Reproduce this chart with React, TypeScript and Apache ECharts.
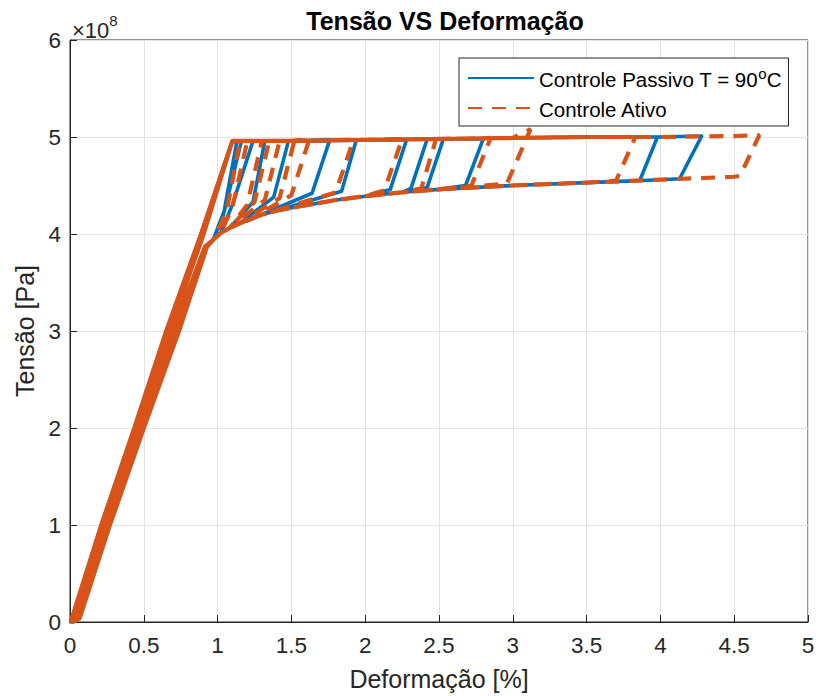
import React, { useEffect, useRef } from "react";
import * as echarts from "echarts";

// Stress values are in units of 1e8 Pa (axis exponent ×10^8), strain in %
const xTicks = [0, 0.5, 1, 1.5, 2, 2.5, 3, 3.5, 4, 4.5, 5];
const yTicks = [0, 1, 2, 3, 4, 5, 6];

// shared branches (elastic loading / unloading variants)
const loadAX = [0.005, 0.212, 0.436, 0.652, 0.888, 1.1];
const loadBX = [0.02, 0.232, 0.455, 0.675, 0.905, 1.1];
const loadY = [0, 1, 2, 3, 4, 4.96];
const unloadAX = [0.915, 0.698, 0.468, 0.24, 0.03];
const unloadBX = [0.92, 0.718, 0.484, 0.255, 0.045];
const unloadCX = [0.928, 0.738, 0.5, 0.27, 0.065];
const unloadY = [3.87, 3, 2, 1, 0.04];
const upperX = [1.1, 1.5, 2, 2.5, 3, 3.5, 4, 4.5];
const upperY = [4.96, 4.96, 4.97, 4.98, 4.99, 5.0, 5.0, 5.01];
const lowerX = [0.97, 1.02, 1.08, 1.15, 1.22, 1.3, 1.4, 1.5, 1.65, 1.8, 2.0, 2.25, 2.5, 3.0, 3.5, 4.0, 4.5];
const lowerY = [3.94, 4.01, 4.06, 4.11, 4.15, 4.2, 4.24, 4.27, 4.31, 4.35, 4.39, 4.43, 4.46, 4.5, 4.53, 4.56, 4.59];

// Controle Passivo T = 90°C: peak, bottom of unloading drop, x where return meets lower branch
const bluePeakX = [4.28, 3.98, 2.8, 2.53, 2.42, 2.28, 1.94, 1.76, 1.48, 1.32, 1.24, 1.16, 1.13];
const bluePeakY = [5.01, 5.0, 4.98, 4.98, 4.98, 4.97, 4.97, 4.97, 4.96, 4.96, 4.96, 4.95, 4.95];
const blueDropX = [4.13, 3.86, 2.68, 2.42, 2.31, 2.17, 1.84, 1.64, 1.38, 1.24, 1.1, 1.05, 1.04];
const blueDropY = [4.57, 4.55, 4.5, 4.48, 4.47, 4.46, 4.44, 4.42, 4.38, 4.33, 4.3, 4.26, 4.2];
const blueRejoinX = [4.13, 3.86, 2.68, 2.42, 2.31, 2.17, 1.5, 1.25, 1.2, 1.15, 1.08, 1.02, 1.0];

// Controle Ativo
const orangePeakX = [4.67, 3.83, 3.12, 2.85, 2.48, 2.25, 1.92, 1.62, 1.52, 1.42, 1.35, 1.3, 1.2, 1.15];
const orangePeakY = [5.02, 5.0, 5.08, 4.99, 4.98, 4.98, 4.97, 4.97, 4.96, 4.96, 4.96, 4.96, 4.95, 4.95];
const orangeDropX = [4.54, 3.7, 2.96, 2.72, 2.38, 2.13, 1.8, 1.5, 1.42, 1.32, 1.25, 1.2, 1.1, 1.06];
const orangeDropY = [4.6, 4.55, 4.52, 4.5, 4.47, 4.45, 4.43, 4.4, 4.37, 4.35, 4.33, 4.3, 4.27, 4.22];
const orangeRejoinX = [4.54, 3.7, 2.96, 2.72, 2.38, 2.13, 1.4, 1.25, 1.2, 1.15, 1.12, 1.1, 1.05, 1.02];

const loadVariants = [loadAX, loadBX];
const unloadVariants = [unloadAX, unloadBX, unloadCX];

function buildPath(px: number[], py: number[], dx: number[], dy: number[], rx: number[], phase: number) {
  const pts: number[][] = [];
  for (let c = 0; c < px.length; c++) {
    const lx = loadVariants[(c + phase) % 2];
    for (let i = 0; i < lx.length; i++) pts.push([lx[i], loadY[i]]);
    for (let i = 1; i < upperX.length; i++) if (upperX[i] < px[c]) pts.push([upperX[i], upperY[i]]);
    pts.push([px[c], py[c]]);
    pts.push([dx[c], dy[c]]);
    for (let i = lowerX.length - 1; i >= 0; i--) if (lowerX[i] < rx[c]) pts.push([lowerX[i], lowerY[i]]);
    const ux = unloadVariants[(c + phase) % 3];
    for (let i = 0; i < ux.length; i++) pts.push([ux[i], unloadY[i]]);
  }
  return pts;
}

const FONT = "'Liberation Sans', Arial, Helvetica, sans-serif";
const AXIS = "#262626";
const BLUE = "#0072bd";
const ORANGE = "#d95319";

export default function App() {
  const ref = useRef<HTMLDivElement>(null);
  useEffect(() => {
    const chart = echarts.init(ref.current!, null, { renderer: "svg" });
    chart.setOption({
      animation: false,
      backgroundColor: "#ffffff",
      textStyle: { fontFamily: FONT },
      title: {
        text: "Tensão VS Deformação",
        left: 440,
        top: 3,
        textAlign: "center",
        textStyle: { fontFamily: FONT, fontWeight: "bold", fontSize: 25, color: "#000" },
      },
      grid: {
        left: 70,
        right: 10,
        top: 40,
        bottom: 73,
        show: true,
        borderColor: AXIS,
        borderWidth: 1,
        containLabel: false,
      },
      xAxis: {
        type: "value",
        min: xTicks[0],
        max: xTicks[xTicks.length - 1],
        interval: 0.5,
        name: "Deformação [%]",
        nameLocation: "middle",
        nameGap: 44,
        nameTextStyle: { fontFamily: FONT, fontSize: 25, color: AXIS },
        axisLine: { show: true, onZero: false, lineStyle: { color: AXIS, width: 1 } },
        axisTick: { show: true, inside: true, length: 7, lineStyle: { color: AXIS } },
        axisLabel: { fontFamily: FONT, fontSize: 22.5, color: AXIS, margin: 12 },
        splitLine: { show: true, lineStyle: { color: "#e3e3e3", width: 1 } },
      },
      yAxis: {
        type: "value",
        min: yTicks[0],
        max: yTicks[yTicks.length - 1],
        interval: 1,
        name: "Tensão [Pa]",
        nameLocation: "middle",
        nameGap: 32,
        nameTextStyle: { fontFamily: FONT, fontSize: 25, color: AXIS },
        axisLine: { show: true, onZero: false, lineStyle: { color: AXIS, width: 1 } },
        axisTick: { show: true, inside: true, length: 7, lineStyle: { color: AXIS } },
        axisLabel: { fontFamily: FONT, fontSize: 22.5, color: AXIS, margin: 9 },
        splitLine: { show: true, lineStyle: { color: "#e3e3e3", width: 1 } },
      },
      legend: {
        orient: "vertical",
        left: 459,
        top: 58,
        padding: [8, 7, 6, 8],
        itemGap: 9,
        itemWidth: 66,
        itemHeight: 14,
        backgroundColor: "#ffffff",
        borderColor: AXIS,
        borderWidth: 1,
        borderRadius: 0,
        itemStyle: { opacity: 0 },
        formatter: (name: string) =>
          name.indexOf("Passivo") >= 0 ? "{a|Controle Passivo T = 90}{s|o}{a|C}" : "{a|" + name + "}",
        textStyle: {
          fontFamily: FONT,
          fontSize: 20.5,
          color: "#000",
          rich: {
            a: { fontFamily: FONT, fontSize: 20.5, color: "#000", lineHeight: 24, verticalAlign: "bottom" },
            s: { fontFamily: FONT, fontSize: 15, color: "#000", lineHeight: 24, verticalAlign: "top", padding: [0, 0, 9, 0] },
          },
        },
        data: ["Controle Passivo T = 90°C", "Controle Ativo"],
      },
      graphic: [
        {
          type: "text",
          left: 72,
          top: 13,
          style: {
            text: "{a|×10}{b|8}",
            rich: {
              a: { fontFamily: FONT, fontSize: 22, fill: AXIS, padding: [6, 0, 0, 0] },
              b: { fontFamily: FONT, fontSize: 15, fill: AXIS, verticalAlign: "top" },
            },
          },
        },
      ],
      series: [
        {
          name: "Controle Passivo T = 90°C",
          type: "line",
          symbol: "none",
          showSymbol: false,
          data: buildPath(bluePeakX, bluePeakY, blueDropX, blueDropY, blueRejoinX, 2),
          lineStyle: { color: BLUE, width: 3.6, join: "round" },
          itemStyle: { color: BLUE },
          z: 2,
        },
        {
          name: "Controle Ativo",
          type: "line",
          symbol: "none",
          showSymbol: false,
          data: buildPath(orangePeakX, orangePeakY, orangeDropX, orangeDropY, orangeRejoinX, 1),
          lineStyle: { color: ORANGE, width: 4.2, type: [14, 10] },
          itemStyle: { color: ORANGE },
          z: 3,
        },
      ],
    });
    return () => chart.dispose();
  }, []);
  return <div ref={ref} style={{ position: "fixed", left: 0, top: 0, width: 818, height: 696 }} />;
}
